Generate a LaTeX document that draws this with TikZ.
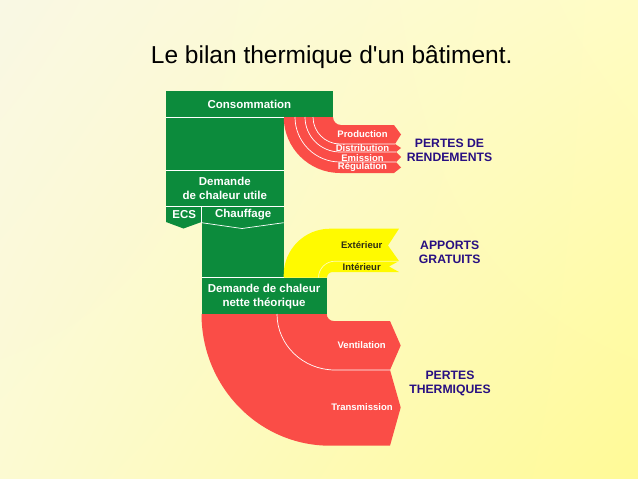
\documentclass[tikz,border=0pt]{standalone}
\usepackage{fontspec}
\setmainfont{Liberation Sans}
\newfontfamily\titlefont{Liberation Sans}[Ligatures=TeXOff]
\usetikzlibrary{shadings}
\definecolor{grn}{RGB}{12,139,60}
\definecolor{redc}{RGB}{250,77,71}
\definecolor{yel}{RGB}{255,250,0}
\definecolor{sidecol}{RGB}{40,15,130}
\definecolor{dark}{RGB}{45,45,20}
\definecolor{bgA}{RGB}{249,248,228}
\definecolor{bgB}{RGB}{255,252,196}
\definecolor{bgC}{RGB}{252,250,210}
\definecolor{bgD}{RGB}{255,250,150}
\begin{document}
\begin{tikzpicture}[x=1pt,y=-1pt,
  lab/.style={font=\bfseries\fontsize{11.5}{14}\selectfont, text=white, align=center, inner sep=0pt},
  small/.style={font=\bfseries\fontsize{9.5}{11}\selectfont, text=white, inner sep=0pt},
  smalldark/.style={small, text=dark},
  side/.style={font=\bfseries\fontsize{12.2}{14}\selectfont, text=sidecol, align=center, inner sep=0pt},
  sep/.style={draw=white, line width=0.7pt}]
\useasboundingbox (0,0) rectangle (638,479);
\shade[upper left=bgA, upper right=bgB, lower left=bgC, lower right=bgD] (0,0) rectangle (638,479);

% title
\node[inner sep=0pt] (title) at (331.7,57) {\titlefont\fontsize{24.5}{28}\selectfont Le bilan thermique d'un bâtiment.};

% green blocks
\fill[grn] (166,91.3) rectangle (332.7,117);
\fill[grn] (166,117) rectangle (283.7,206);
\fill[grn] (166,206) -- (201.5,206) -- (201.5,222) -- (183.5,228.5) -- (166,222) -- cycle;
\fill[grn] (201.5,206) rectangle (283.7,277.7);
\fill[grn] (201.5,277.7) rectangle (326.7,314);

% top red fan (pertes de rendements)
\fill[redc] (283.7,117) -- (333,117) arc[start angle=180,end angle=90,radius=8]
  -- (394,125) -- (401,134.5) -- (395,144) -- (401,148) -- (396,152) -- (401,157)
  -- (396,162) -- (401,167.5) -- (394,173) -- (340,173)
  arc[start angle=90,end angle=180,radius=56.3] -- cycle;
\draw[sep] (313,117) arc[start angle=180,end angle=90,radius=27] -- (395,144);
\draw[sep] (305,117) arc[start angle=180,end angle=90,radius=35] -- (396,152);
\draw[sep] (295,117) arc[start angle=180,end angle=90,radius=45] -- (396,162);

% yellow (apports gratuits)
\fill[yel] (283.7,277.7) -- (283.7,275) arc[start angle=180,end angle=270,radius=46.3]
  -- (399,228.7) -- (388,245.5) -- (399,261) -- (389,266.5) -- (399,272) -- (332.7,272)
  arc[start angle=270,end angle=180,radius=5.7] -- cycle;
\draw[sep, draw=white!70!yel] (318.5,277.7) arc[start angle=180,end angle=270,radius=16.5] -- (399,261.2);

% bottom red (pertes thermiques)
\fill[redc] (201.5,314) -- (326.7,314) arc[start angle=180,end angle=90,radius=7]
  -- (390,321) -- (400.7,345.5) -- (390,370) -- (400.7,407.5) -- (390,445.7) -- (330,445.7)
  arc[start angle=90,end angle=180,x radius=128.5,y radius=131.7] -- cycle;
\draw[sep] (277,314) arc[start angle=180,end angle=90,x radius=58,y radius=56] -- (390,370);

% green separators
\draw[sep] (166,117) -- (283.7,117);
\draw[sep] (166,170) -- (283.7,170);
\draw[sep] (166,206) -- (283.7,206);
\draw[sep] (201.5,206) -- (201.5,222.5);
\draw[sep] (201.5,222.7) -- (242,228.5) -- (283.7,222.7);
\draw[sep, line width=0.5pt] (201.5,277.7) -- (283.7,277.7);

% green labels
\node[lab] (conso) at (249.4,104.5) {Consommation};
\node[lab] (utile) at (224.8,188.7) {Demande\\de chaleur utile};
\node[lab] (ecs) at (184.2,215) {ECS};
\node[lab] (chauf) at (243.2,215) {Chauffage};
\node[lab] (nette) at (264.1,296.2) {Demande de chaleur\\nette théorique};

% fan labels
\node[small] (prod) at (362.5,133.7) {Production};
\node[small] (distr) at (362.5,148) {Distribution};
\node[small] (emis) at (362.5,157.7) {Emission};
\node[small] (regul) at (362.5,167.3) {Régulation};
\node[smalldark] (ext) at (361.7,245.5) {Extérieur};
\node[smalldark] (int) at (361.7,267) {Intérieur};
\node[small] (vent) at (361.7,345.5) {Ventilation};
\node[small] (trans) at (362,407.3) {Transmission};

% side labels
\node[side] (rend) at (449.5,150.3) {PERTES DE\\RENDEMENTS};
\node[side] (grat) at (449.7,252) {APPORTS\\GRATUITS};
\node[side] (therm) at (450,383) {PERTES\\THERMIQUES};
\end{tikzpicture}
\end{document}
